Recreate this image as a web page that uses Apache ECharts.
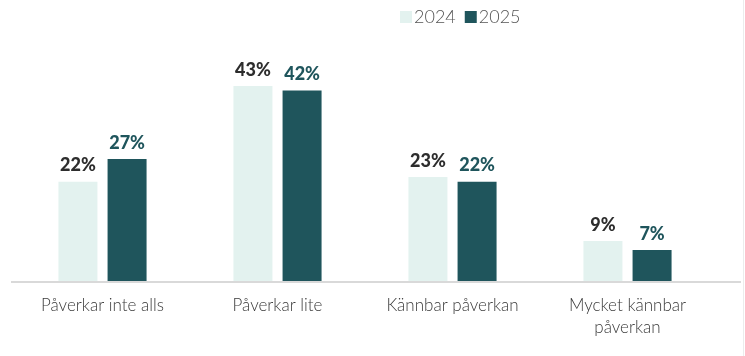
<!DOCTYPE html>
<html><head><meta charset="utf-8">
<script src="https://cdn.jsdelivr.net/npm/echarts@6/dist/echarts.min.js"></script>
<style>html,body{margin:0;padding:0;background:#fff}#c{width:745px;height:356px}</style>
</head><body><div id="c"></div>
<script>
const categories = ['Påverkar inte alls', 'Påverkar lite', 'Kännbar påverkan', 'Mycket kännbar\npåverkan'];
const values2024 = [22, 43, 23, 9];
const values2025 = [27, 42, 22, 7];
const seriesNames = ['2024', '2025'];

const chart = echarts.init(document.getElementById('c'));
const option = {
  animation: false,
  legend: {
    top: 3, left: 395, itemWidth: 12, itemHeight: 12, itemGap: 9,
    icon: 'rect',
    textStyle: { fontFamily: 'Lato', fontWeight: 300, fontSize: 18, color: '#555', padding: [0,0,0,-3] },
    data: seriesNames
  },
  grid: { left: 15, right: 30, top: 54, bottom: 74 },
  xAxis: {
    type: 'category', data: categories,
    axisLine: { show: false },
    axisTick: { show: false },
    axisLabel: { fontFamily: 'Lato', fontWeight: 300, fontSize: 17, color: '#3a3a3a', margin: 13, lineHeight: 22, interval: 0 }
  },
  yAxis: { type: 'value', min: 0, max: 50, show: false, splitLine: { show: false } },
  series: [
    { name: seriesNames[0], type: 'bar', data: values2024, barWidth: 39, barGap: '26%',
      itemStyle: { color: '#e3f2ef' },
      label: { show: true, position: 'top', distance: 7, formatter: '{c}%', fontFamily: 'Lato', fontWeight: 900, fontSize: 18, color: '#2d2d2d' } },
    { name: seriesNames[1], type: 'bar', data: values2025, barWidth: 39,
      itemStyle: { color: '#1f555c' },
      label: { show: true, position: 'top', distance: 7, formatter: '{c}%', fontFamily: 'Lato', fontWeight: 900, fontSize: 18, color: '#1f555c' } }
  ]
};
chart.setOption(option);
const y0 = chart.convertToPixel({ yAxisIndex: 0 }, 0);
chart.setOption({ graphic: [
  { type: 'line', shape: { x1: 11, y1: y0, x2: 741, y2: y0 }, style: { stroke: '#d9d9d9', lineWidth: 2 }, z: 10 },
  { type: 'line', shape: { x1: 743.5, y1: 0, x2: 743.5, y2: 356 }, style: { stroke: '#ececec', lineWidth: 1 } }
]});
</script></body></html>
